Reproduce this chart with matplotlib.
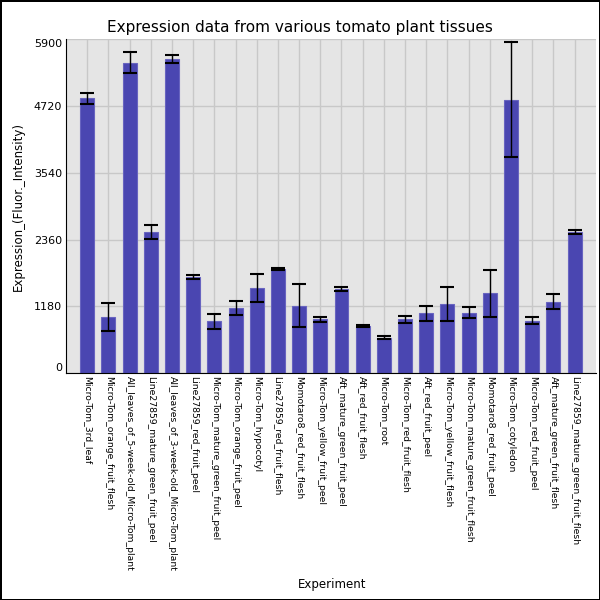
import numpy as np
import matplotlib
matplotlib.use('Agg')
import matplotlib.pyplot as plt

# tissues, mean expression and spread
tissues = [
    'Micro-Tom_3rd_leaf',
    'Micro-Tom_orange_fruit_flesh',
    'All_leaves_of_5-week-old_Micro-Tom_plant',
    'Line27859_mature_green_fruit_peel',
    'All_leaves_of_3-week-old_Micro-Tom_plant',
    'Line27859_red_fruit_peel',
    'Micro-Tom_mature_green_fruit_peel',
    'Micro-Tom_orange_fruit_peel',
    'Micro-Tom_hypocotyl',
    'Line27859_red_fruit_flesh',
    'Momotaro8_red_fruit_flesh',
    'Micro-Tom_yellow_fruit_peel',
    'Aft_mature_green_fruit_peel',
    'Aft_red_fruit_flesh',
    'Micro-Tom_root',
    'Micro-Tom_red_fruit_flesh',
    'Aft_red_fruit_peel',
    'Micro-Tom_yellow_fruit_flesh',
    'Micro-Tom_mature_green_fruit_flesh',
    'Momotaro8_red_fruit_peel',
    'Micro-Tom_cotyledon',
    'Micro-Tom_red_fruit_peel',
    'Aft_mature_green_fruit_flesh',
    'Line27859_mature_green_fruit_flesh',
]
expression = [4850, 990, 5485, 2490, 5550, 1695, 915, 1145, 1505, 1840,
              1187, 950, 1478, 840, 627, 950, 1057, 1230, 1063, 1410,
              4830, 925, 1263, 2487]
spread = [97, 253, 182, 127, 65, 32, 138, 121, 241, 12,
          380, 38, 35, 18, 32, 56, 133, 300, 97, 410,
          1017, 65, 127, 35]
yticks = [0, 1180, 2360, 3540, 4720, 5900]

fig = plt.figure(figsize=(6, 6), dpi=100)
fig.patch.set_edgecolor('black')
fig.patch.set_linewidth(2)

ax = fig.add_axes([0.11, 0.378, 0.883, 0.557])
ax.set_facecolor('#e5e5e5')
ax.set_axisbelow(True)
ax.grid(True, color='#c8c8c8', linewidth=1)

x = np.arange(len(tissues))
ax.bar(x, expression, width=0.66, color='#4a46b1', edgecolor='#6864c0', linewidth=0.8)
ax.errorbar(x, expression, yerr=spread, fmt='none', ecolor='black',
            elinewidth=1, capsize=4.8, capthick=1.5)

ax.set_xlim(-1, len(tissues))
ax.set_ylim(0, 5900)
ax.set_yticks(yticks)
ax.set_yticklabels([str(v) for v in yticks], fontsize=8)
labs = ax.get_yticklabels()
labs[0].set_verticalalignment('bottom')
labs[-1].set_verticalalignment('top')
ax.set_xticks(x)
ax.set_xticklabels(tissues, rotation=270, fontsize=6.7, va='top', ha='center')
ax.tick_params(axis='both', length=0)
ax.tick_params(axis='x', pad=2)
ax.tick_params(axis='y', pad=3)

for side in ['top', 'right']:
    ax.spines[side].set_visible(False)
ax.spines['left'].set_color('black')
ax.spines['bottom'].set_color('black')

fig.suptitle('Expression data from various tomato plant tissues', fontsize=11, x=0.5, y=0.966)
ax.set_ylabel('Expression_(Fluor._Intensity)', fontsize=8.5, labelpad=6)
fig.text(0.553, 0.02, 'Experiment', ha='center', fontsize=8.5)

fig.savefig('out.png', dpi=100, edgecolor=fig.get_edgecolor())
